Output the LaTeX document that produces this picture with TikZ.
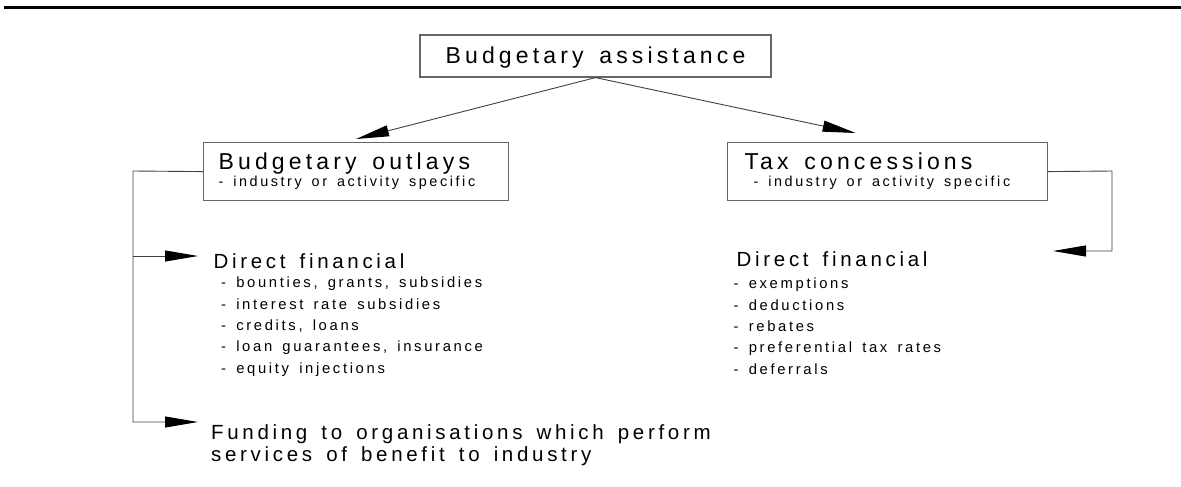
\documentclass[tikz,border=0pt]{standalone}
\usepackage{fontspec}
\setmainfont{Liberation Sans}[LetterSpace=18,WordSpace=1.5]
\usetikzlibrary{arrows.meta}

\begin{document}
\begin{tikzpicture}[x=1pt,y=-1pt]
\tikzstyle{every node}=[inner sep=0pt];
\tikzstyle{box}=[draw=black!60,line width=1.2pt,rectangle,execute at begin node={\spaceskip=0pt\xspaceskip=0pt}];
\tikzstyle{big}=[font=\fontsize{23}{27}\selectfont];
\tikzstyle{mid}=[font=\fontsize{20.5}{22}\selectfont];
\tikzstyle{small}=[font=\fontsize{14.8}{21.3}\selectfont];
\tikzstyle{conn}=[draw=black!75,line width=0.9pt];
\tikzstyle{arr}=[conn,-{Triangle[length=33pt,width=11pt,color=black]}];
\useasboundingbox (0,0) rectangle (1181,487);
\draw[line width=3pt] (4,7.5) -- (1181,7.5);

\node[box,big,minimum width=351pt,minimum height=42pt,text height=17pt,text depth=1pt] (assist) at (595.5,56) {Budgetary assistance};

\node[box,big,anchor=north west,text width=275pt,align=left,inner xsep=15pt,minimum height=58pt] (outlays) at (203,142)
 {Budgetary outlays\\[-10pt]{\fontsize{14.4}{17}\selectfont - industry or activity specific}};
\node[box,big,anchor=north west,text width=286pt,align=left,inner xsep=17pt,minimum height=58pt] (tax) at (727,142)
 {Tax concessions\\[-10pt]{\fontsize{14.4}{17}\selectfont\hspace*{9pt}- industry or activity specific}};

% left branch
\node[mid,anchor=base west] (dirL) at (213.4,268) {Direct financial};
\node[small,anchor=north west,align=left] (listL) at (221,277)
 {- bounties, grants, subsidies\\- interest rate subsidies\\- credits, loans\\- loan guarantees, insurance\\- equity injections};
\node[mid,anchor=north west,align=left] (fundL) at (211,424)
 {Funding to organisations which perform\\services of benefit to industry};

% right branch
\node[mid,anchor=base west] (dirR) at (736.5,266) {Direct financial};
\node[small,anchor=north west,align=left] (listR) at (733.5,278)
 {- exemptions\\- deductions\\- rebates\\- preferential tax rates\\- deferrals};

\coordinate (railL) at (133,171);
\coordinate (railR) at (1112,171);
\coordinate (tipD) at (198,256);
\coordinate (tipF) at (198,422);
\coordinate (tipR) at (1053,251);

\draw[arr] (assist.south) -- ([yshift=3pt]outlays.north);
\draw[arr] (assist.south) -- ([xshift=-32pt,yshift=9pt]tax.north);
\draw[arr] (outlays.west) -- (railL) |- (tipF);
\draw[arr] (railL |- tipD) -- (tipD);
\draw[arr] (tax.east) -- (railR) |- (tipR);
\end{tikzpicture}
\end{document}
